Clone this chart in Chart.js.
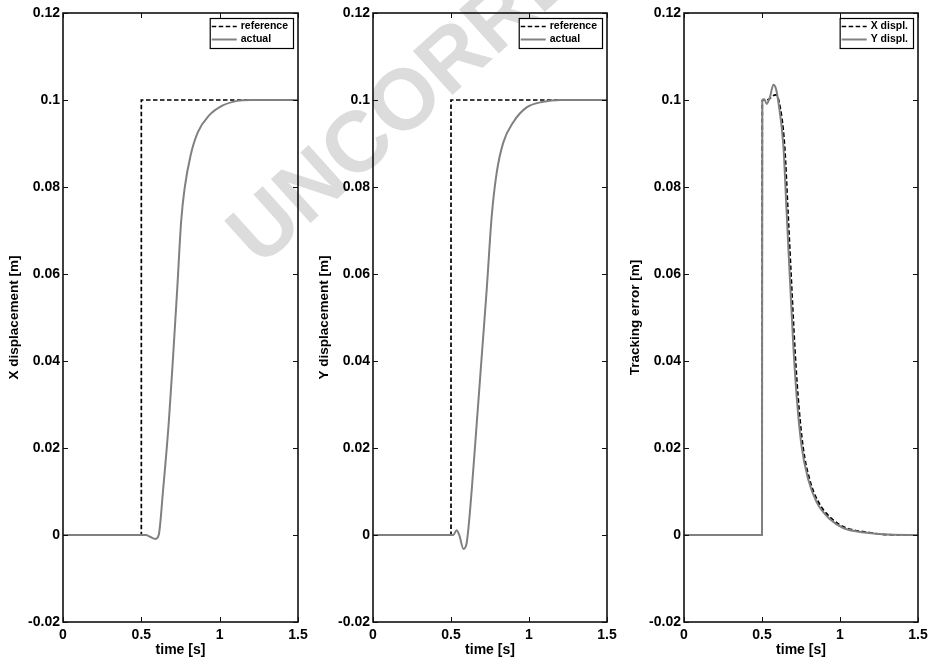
<!DOCTYPE html>
<html>
<head>
<meta charset="utf-8">
<script src="https://cdn.jsdelivr.net/npm/chart.js@4.4.1/dist/chart.umd.min.js"></script>
<style>
  html, body { margin: 0; padding: 0; background: #fff; overflow: hidden; }
  #page { position: relative; width: 933px; height: 659px; overflow: hidden; }
  canvas { position: absolute; top: 0; z-index: 1; }
  #mark {
    position: absolute; left: 240px; top: 203px; z-index: 0;
    font: bold 86px "Liberation Sans", Arial, sans-serif; line-height: 1;
    color: #dcdcdc; white-space: nowrap;
    transform-origin: 0 50%; transform: rotate(-42deg);
  }
</style>
</head>
<body>
<div id="page">
  <div id="mark">UNCORRECTED PROOF</div>
  <canvas id="c1" width="313" height="659" style="left:0px"></canvas>
  <canvas id="c2" width="312" height="659" style="left:310px"></canvas>
  <canvas id="c3" width="312" height="659" style="left:621px"></canvas>
</div>
<script>
// Axis ticks
const xTicks = [0, 0.5, 1, 1.5];
const xTickLabels = ['0', '0.5', '1', '1.5'];
const yTicks = [-0.02, 0, 0.02, 0.04, 0.06, 0.08, 0.1, 0.12];
const yTickLabels = ['-0.02', '0', '0.02', '0.04', '0.06', '0.08', '0.1', '0.12'];

// Reference step (X and Y)
const refTime = [0, 0.5, 0.5, 1.5];
const refValue = [0, 0, 0.1, 0.1];

// X displacement, actual
const xActTime = [0, 0.53, 0.555, 0.59, 0.611, 0.639, 0.675, 0.703, 0.729, 0.754, 0.776, 0.814, 0.861, 0.931, 1.017, 1.113, 1.2, 1.5];
const xActValue = [0, 0, -0.0004, -0.0009, 0, 0.0104, 0.0258, 0.0412, 0.0565, 0.072, 0.0796, 0.0872, 0.0926, 0.0964, 0.0987, 0.0998, 0.1, 0.1];

// Y displacement, actual
const yActTime = [0, 0.515, 0.536, 0.553, 0.58, 0.6, 0.633, 0.665, 0.697, 0.729, 0.761, 0.793, 0.835, 0.899, 0.985, 1.092, 1.2, 1.5];
const yActValue = [0, 0, 0.0011, 0, -0.0032, -0.0019, 0.0104, 0.0257, 0.0411, 0.0565, 0.0733, 0.0833, 0.0902, 0.0949, 0.0983, 0.0996, 0.1, 0.1];

// Tracking error, X
const xErrTime = [0, 0.5, 0.502, 0.53, 0.56, 0.585, 0.61, 0.645, 0.667, 0.688, 0.71, 0.731, 0.763, 0.806, 0.86, 0.945, 1.03, 1.18, 1.3, 1.5];
const xErrValue = [0, 0, 0.1, 0.1, 0.1006, 0.1012, 0.0995, 0.0895, 0.0741, 0.0588, 0.0434, 0.0319, 0.0203, 0.0127, 0.0077, 0.0038, 0.0018, 0.0006, 0.0001, 0];

// Tracking error, Y
const yErrTime = [0, 0.5, 0.502, 0.515, 0.53, 0.55, 0.573, 0.59, 0.605, 0.637, 0.658, 0.679, 0.701, 0.722, 0.754, 0.797, 0.851, 0.936, 1.021, 1.171, 1.3, 1.5];
const yErrValue = [0, 0, 0.1, 0.1002, 0.0991, 0.1005, 0.1035, 0.1025, 0.0995, 0.0895, 0.0741, 0.0588, 0.0434, 0.0319, 0.0203, 0.0127, 0.0075, 0.0036, 0.0016, 0.0005, 0.0001, 0];

const FONT = '"Liberation Sans", Arial, sans-serif';

function toPoints(t, v) {
    return t.map((x, i) => ({ x: x, y: v[i] }));
}

function dashedSet(label, t, v, smooth) {
    return {
        label: label,
        data: toPoints(t, v),
        borderColor: '#000',
        borderWidth: 1.7,
        borderDash: [4.5, 2.5],
        pointRadius: 0,
        tension: 0,
        cubicInterpolationMode: smooth ? 'monotone' : 'default',
        order: 1
    };
}

function graySet(label, t, v) {
    return {
        label: label,
        data: toPoints(t, v),
        borderColor: '#808080',
        borderWidth: 2,
        pointRadius: 0,
        cubicInterpolationMode: 'monotone',
        order: 0
    };
}

// Box around the plot with inward ticks on all four sides
const framePlugin = {
    id: 'frame',
    afterDatasetsDraw(chart) {
        const ctx = chart.ctx;
        const a = chart.chartArea;
        const xs = chart.scales.x;
        const ys = chart.scales.y;
        ctx.save();
        ctx.strokeStyle = '#111';
        ctx.lineWidth = 1;
        ctx.beginPath();
        xs.ticks.forEach(t => {
            const px = Math.round(xs.getPixelForValue(t.value)) + 0.5;
            ctx.moveTo(px, a.bottom); ctx.lineTo(px, a.bottom - 5);
            ctx.moveTo(px, a.top); ctx.lineTo(px, a.top + 5);
        });
        ys.ticks.forEach(t => {
            const py = Math.round(ys.getPixelForValue(t.value)) + 0.5;
            ctx.moveTo(a.left, py); ctx.lineTo(a.left + 5, py);
            ctx.moveTo(a.right, py); ctx.lineTo(a.right - 5, py);
        });
        ctx.stroke();
        ctx.lineWidth = 1.6;
        ctx.strokeRect(a.left, a.top, a.right - a.left, a.bottom - a.top);
        ctx.restore();
    }
};

// MATLAB-style boxed legend in the upper right corner
const boxLegendPlugin = {
    id: 'boxLegend',
    afterDraw(chart) {
        const ctx = chart.ctx;
        const a = chart.chartArea;
        const sets = chart.data.datasets;
        ctx.save();
        ctx.font = 'bold 10.5px ' + FONT;
        let tw = 0;
        sets.forEach(s => { tw = Math.max(tw, ctx.measureText(s.label).width); });
        const w = 2 + 25 + 4 + tw + 5;
        const h = 30;
        const bx = a.right - 5 - w;
        const by = a.top + 5;
        ctx.fillStyle = '#fff';
        ctx.fillRect(bx, by, w, h);
        ctx.strokeStyle = '#000';
        ctx.lineWidth = 1.2;
        ctx.strokeRect(bx + 0.5, by + 0.5, w, h);
        sets.forEach((s, i) => {
            const cy = by + 8.5 + i * 13;
            ctx.beginPath();
            ctx.strokeStyle = s.borderColor;
            ctx.lineWidth = s.borderWidth;
            ctx.setLineDash(s.borderDash || []);
            ctx.moveTo(bx + 2, cy);
            ctx.lineTo(bx + 27, cy);
            ctx.stroke();
            ctx.setLineDash([]);
            ctx.fillStyle = '#000';
            ctx.textBaseline = 'middle';
            ctx.fillText(s.label, bx + 31, cy);
        });
        ctx.restore();
    }
};

function makeChart(id, yTitle, datasets, padRight) {
    return new Chart(document.getElementById(id), {
        type: 'line',
        data: { datasets: datasets },
        options: {
            responsive: false,
            animation: false,
            devicePixelRatio: 1,
            layout: { padding: { top: 13, right: padRight, bottom: 0, left: 0 } },
            plugins: { legend: { display: false }, tooltip: { enabled: false } },
            scales: {
                x: {
                    type: 'linear',
                    min: 0,
                    max: 1.5,
                    grid: { display: false, drawTicks: false },
                    border: { display: false },
                    afterBuildTicks: s => { s.ticks = xTicks.map(v => ({ value: v })); },
                    afterFit: s => { s.height = 37; },
                    ticks: {
                        color: '#000',
                        padding: 5,
                        maxRotation: 0,
                        font: { family: FONT, size: 14, weight: 'bold' },
                        callback: (v, i) => xTickLabels[i]
                    },
                    title: {
                        display: true,
                        text: 'time [s]',
                        color: '#000',
                        padding: { top: 0.3, bottom: 0.3 },
                        font: { family: FONT, size: 14, weight: 'bold' }
                    }
                },
                y: {
                    min: -0.02,
                    max: 0.12,
                    grid: { display: false, drawTicks: false },
                    border: { display: false },
                    afterBuildTicks: s => { s.ticks = yTicks.map(v => ({ value: v })); },
                    afterFit: s => { s.width = 63; },
                    ticks: {
                        color: '#000',
                        padding: 3,
                        font: { family: FONT, size: 14, weight: 'bold' },
                        callback: (v, i) => yTickLabels[i]
                    },
                    title: {
                        display: true,
                        text: yTitle,
                        color: '#000',
                        padding: { top: 6.6, bottom: 6.6 },
                        font: { family: FONT, size: 13.5, weight: 'bold' }
                    }
                }
            }
        },
        plugins: [framePlugin, boxLegendPlugin]
    });
}

makeChart('c1', 'X displacement [m]', [
    dashedSet('reference', refTime, refValue, false),
    graySet('actual', xActTime, xActValue)
], 15);

makeChart('c2', 'Y displacement [m]', [
    dashedSet('reference', refTime, refValue, false),
    graySet('actual', yActTime, yActValue)
], 15);

makeChart('c3', 'Tracking error [m]', [
    dashedSet('X displ.', xErrTime, xErrValue, true),
    graySet('Y displ.', yErrTime, yErrValue)
], 15);
</script>
</body>
</html>
